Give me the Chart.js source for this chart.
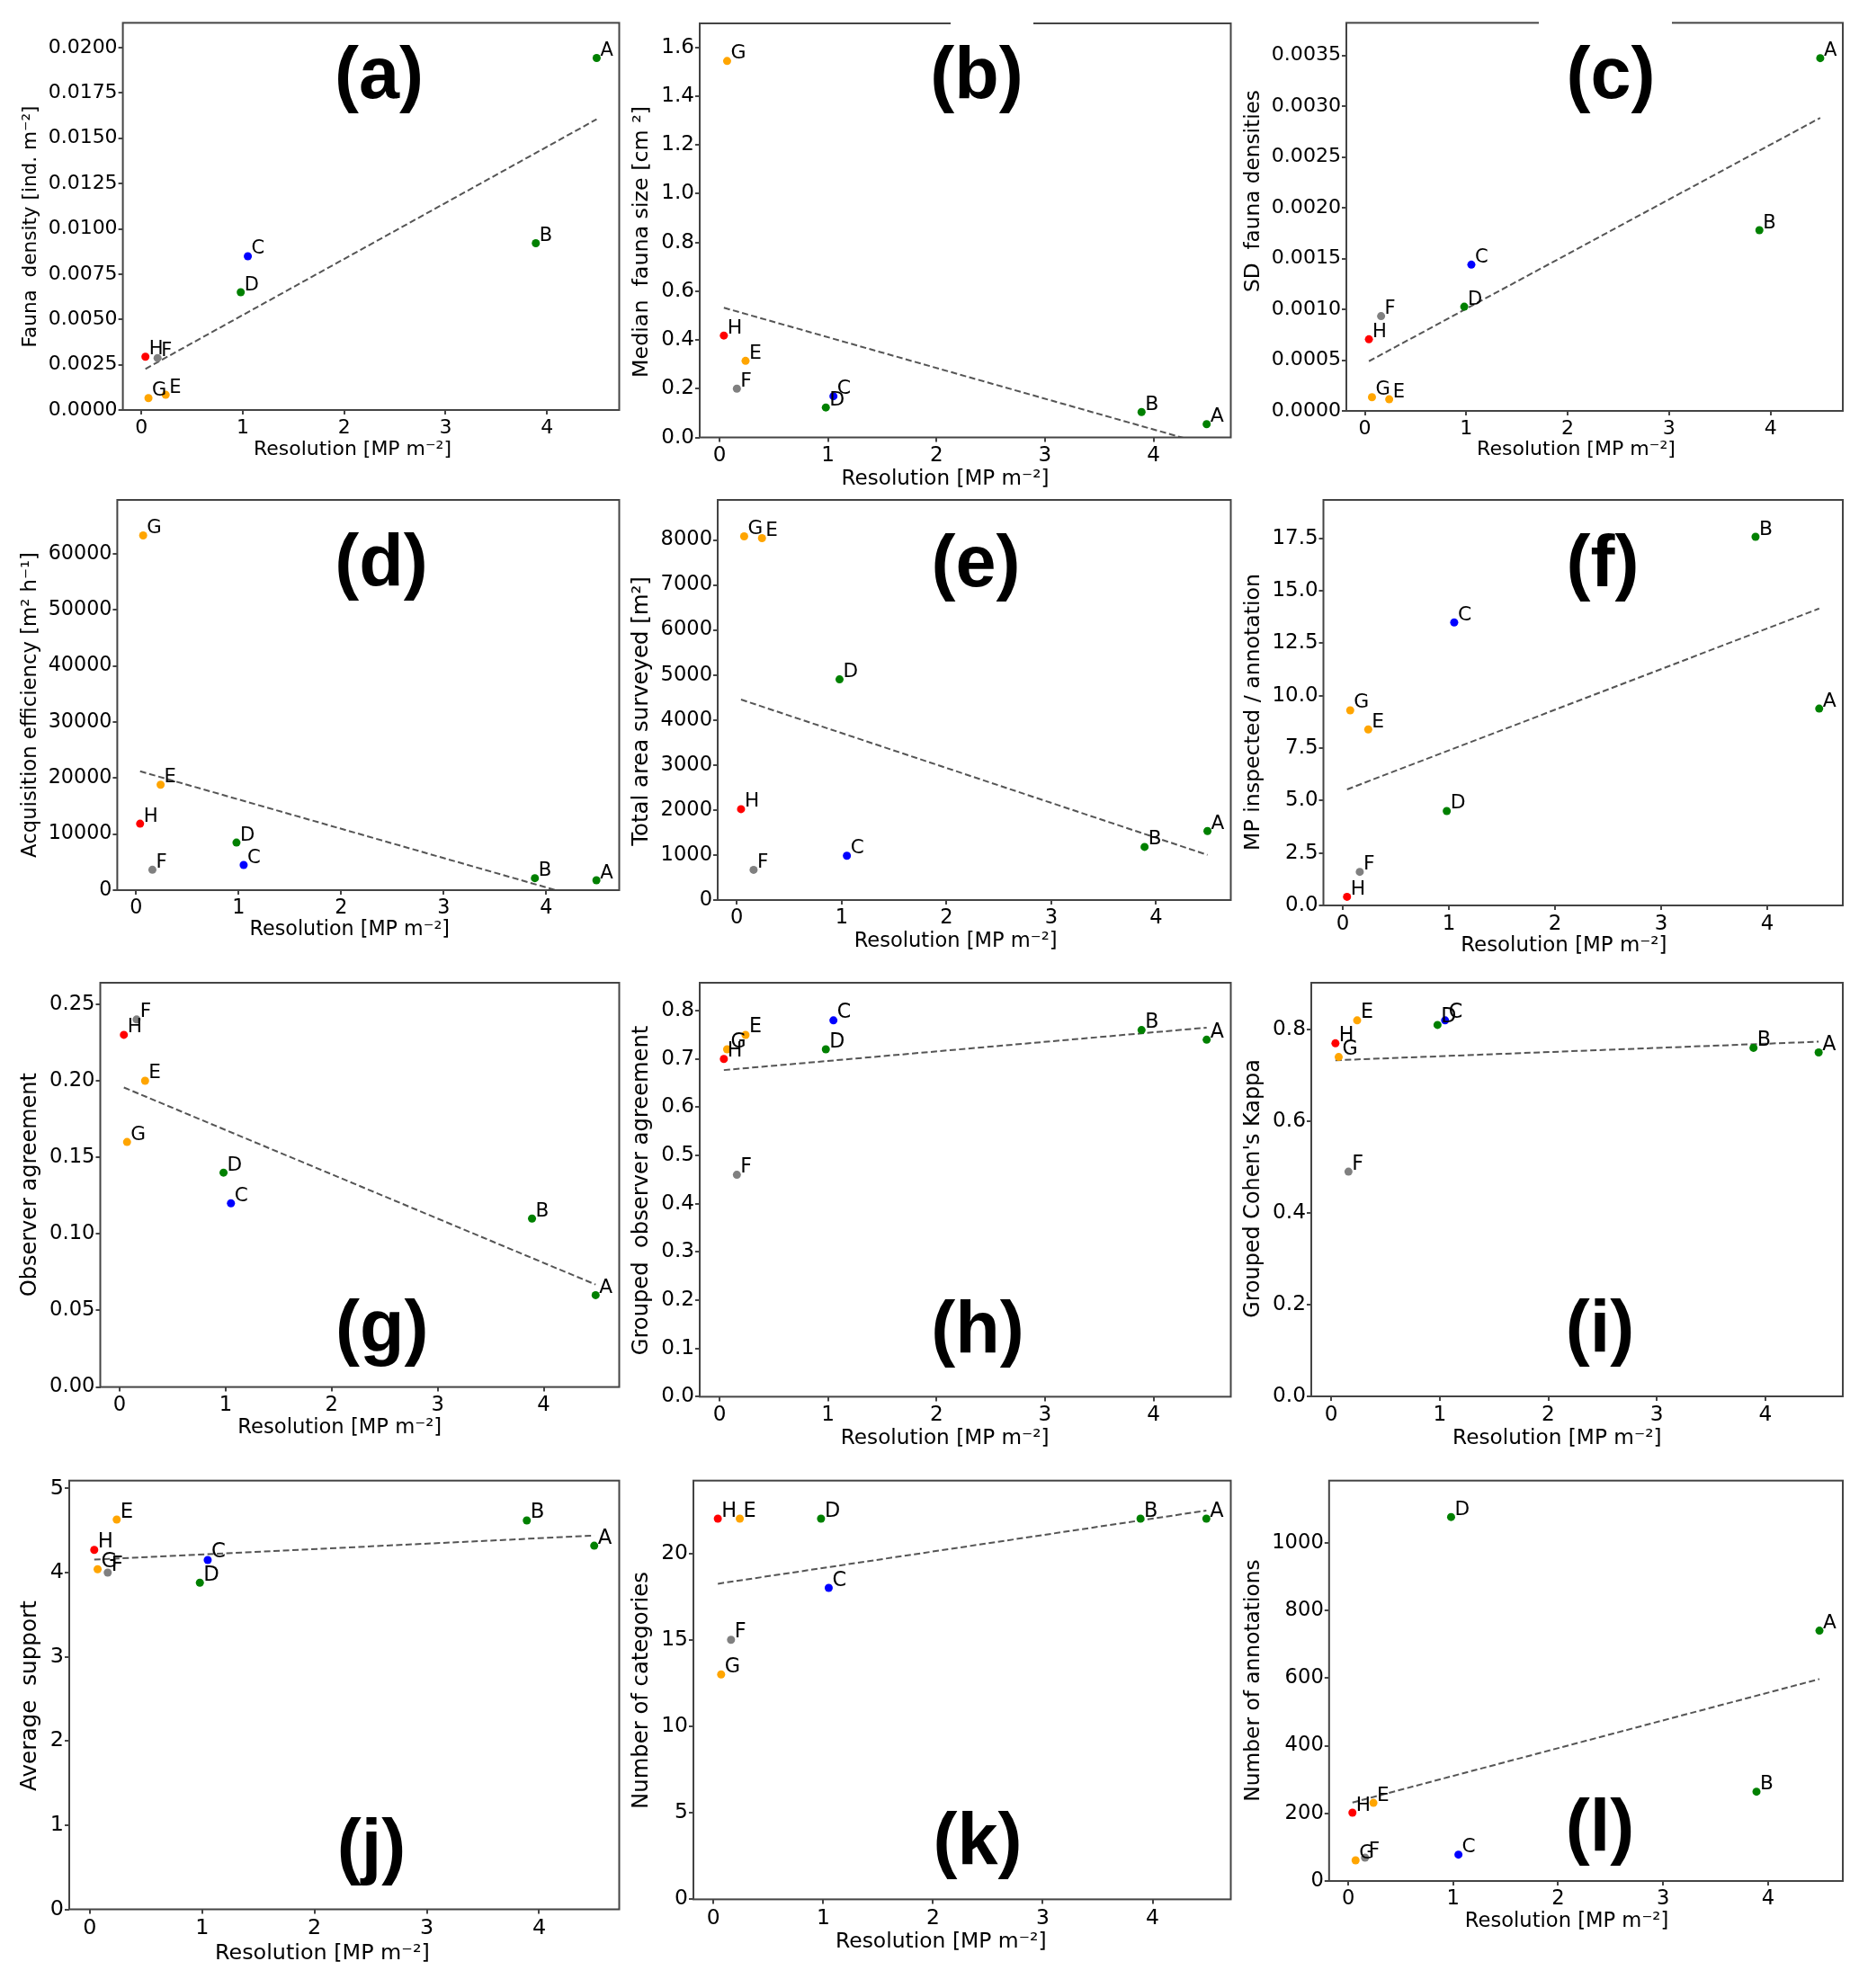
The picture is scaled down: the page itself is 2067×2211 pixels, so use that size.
<!DOCTYPE html>
<html><head><meta charset="utf-8">
<script src="https://cdn.jsdelivr.net/npm/chart.js@4/dist/chart.umd.min.js"></script>
<style>
html,body{margin:0;padding:0;background:#fff;}
#page{position:relative;width:2067px;height:2211px;overflow:hidden;background:#fff;}
#page canvas{position:absolute;}
</style></head><body><div id="page"></div>
<script>
// ---------------- data ----------------
const sites = ['A','B','C','D','E','F','G','H'];
const siteColors = ['green','green','blue','green','orange','gray','orange','red'];
const resolution = [4.49,3.89,1.05,0.98,0.24,0.16,0.07,0.04];
const xTickLabels = ['0','1','2','3','4'];
const xTitle = 'Resolution [MP m\u207B\u00B2]';

const faunaDensity = [0.01943,0.00921,0.00849,0.0065,0.00084,0.00287,0.00066,0.00294];
const medianFaunaSize = [0.0545,0.104,0.169,0.123,0.314,0.200,1.544,0.418];
const sdFaunaDensities = [0.003473,0.001779,0.00144,0.001026,0.000114,0.000933,0.000135,0.000705];
const acquisitionEfficiency = [1763,2137,4488,8495,18807,3633,63313,11861];
const totalAreaSurveyed = [1532,1180,983,4902,8041,671,8081,2020];
const mpPerAnnotation = [9.38,17.57,13.49,4.50,8.39,1.60,9.30,0.41];
const observerAgreement = [0.06,0.11,0.12,0.14,0.20,0.24,0.16,0.23];
const groupedObserverAgreement = [0.74,0.76,0.78,0.72,0.75,0.46,0.72,0.70];
const groupedKappa = [0.75,0.76,0.82,0.81,0.82,0.49,0.74,0.77];
const averageSupport = [4.32,4.62,4.15,3.88,4.63,4.00,4.04,4.27];
const numberOfCategories = [22,22,18,22,22,15,13,22];
const numberOfAnnotations = [740,264,78,1076,231,69,61,202];

// trend lines: x from / to, y from / to
const trendX = [0.04, 4.49];
const trendA = [0.00227, 0.01605];
const trendB = [0.532, -0.029];
const trendC = [0.000489, 0.002885];
const trendD = [21211, -2063];
const trendE = [4454, 1003];
const trendF = [5.53, 14.15];
const trendG = [0.1956, 0.0669];
const trendH = [0.677, 0.765];
const trendI = [0.733, 0.7735];
const trendJ = [4.154, 4.44];
const trendK = [18.24, 22.47];
const trendL = [232, 597];

// y tick labels
const ticksA = ['0.0000','0.0025','0.0050','0.0075','0.0100','0.0125','0.0150','0.0175','0.0200'];
const ticksB = ['0.0','0.2','0.4','0.6','0.8','1.0','1.2','1.4','1.6'];
const ticksC = ['0.0000','0.0005','0.0010','0.0015','0.0020','0.0025','0.0030','0.0035'];
const ticksD = ['0','10000','20000','30000','40000','50000','60000'];
const ticksE = ['0','1000','2000','3000','4000','5000','6000','7000','8000'];
const ticksF = ['0.0','2.5','5.0','7.5','10.0','12.5','15.0','17.5'];
const ticksG = ['0.00','0.05','0.10','0.15','0.20','0.25'];
const ticksH = ['0.0','0.1','0.2','0.3','0.4','0.5','0.6','0.7','0.8'];
const ticksI = ['0.0','0.2','0.4','0.6','0.8'];
const ticksJ = ['0','1','2','3','4','5'];
const ticksK = ['0','5','10','15','20'];
const ticksL = ['0','200','400','600','800','1000'];

// ---------------- layout ----------------
const FRAME = '#444';
const FONT = '"DejaVu Sans"';
Chart.defaults.font.family = '"DejaVu Sans", sans-serif';
Chart.defaults.color = '#000';

// box = plot area [left, top, right, bottom]; ytc = y-title centre; yl = y-title length;
// xt = [x-title centre x, centre y, width]; lab = panel letter centre/baseline
const panels = [
  {tag:'(a)', v:faunaDensity, tr:trendA, tk:ticksA, yt:'Fauna  density [ind. m\u207B\u00B2]', col:0, box:[136.6,25.4,688.5,456], ytc:252, yl:269, xt:[392,500,220], lab:[421.5,109]},
  {tag:'(b)', v:medianFaunaSize, tr:trendB, tk:ticksB, yt:'Median  fauna size [cm \u00B2]', col:680, box:[778,26,1368.5,486.5], ytc:269, yl:302, xt:[1051,533,231], lab:[1086,109.4], gap:[1057,1149]},
  {tag:'(c)', v:sdFaunaDensities, tr:trendC, tk:ticksC, yt:'SD  fauna densities', col:1360, box:[1497,25.4,2049,457], ytc:212.5, yl:225, xt:[1752.5,500,221], lab:[1791,109], gap:[1711,1859]},
  {tag:'(d)', v:acquisitionEfficiency, tr:trendD, tk:ticksD, yt:'Acquisition efficiency [m\u00B2 h\u207B\u00B9]', col:0, box:[130.4,556,688.5,990], ytc:784, yl:340, xt:[388.8,1034,222.5], lab:[424,651]},
  {tag:'(e)', v:totalAreaSurveyed, tr:trendE, tk:ticksE, yt:'Total area surveyed [m\u00B2]', col:680, box:[798,556,1368.5,1001], ytc:791, yl:299.5, xt:[1062.6,1046.8,226], lab:[1085,651.6]},
  {tag:'(f)', v:mpPerAnnotation, tr:trendF, tk:ticksF, yt:'MP inspected / annotation', col:1360, box:[1471.5,556,2049,1007], ytc:792, yl:308, xt:[1738.8,1051.8,229.5], lab:[1782,651.6]},
  {tag:'(g)', v:observerAgreement, tr:trendG, tk:ticksG, yt:'Observer agreement', col:0, box:[111.5,1093,688.5,1542.6], ytc:1317.6, yl:249, xt:[377.7,1588.5,227], lab:[424.7,1503]},
  {tag:'(h)', v:groupedObserverAgreement, tr:trendH, tk:ticksH, yt:'Grouped  observer agreement', col:680, box:[778,1093,1368.5,1553.4], ytc:1324, yl:367, xt:[1050.7,1599.6,232], lab:[1087,1503.7]},
  {tag:'(i)', v:groupedKappa, tr:trendI, tk:ticksI, yt:"Grouped Cohen's Kappa", col:1360, box:[1458,1093,2049,1553], ytc:1322, yl:288, xt:[1731.3,1599.6,232.6], lab:[1779,1503]},
  {tag:'(j)', v:averageSupport, tr:trendJ, tk:ticksJ, yt:'Average  support', col:0, box:[77,1646.7,688.5,2123.5], ytc:1886, yl:212, xt:[358.4,2172.7,239], lab:[413,2079.8]},
  {tag:'(k)', v:numberOfCategories, tr:trendK, tk:ticksK, yt:'Number of categories', col:680, box:[771,1646.7,1368.5,2112.4], ytc:1880, yl:264, xt:[1046.3,2159.7,234.7], lab:[1087,2073]},
  {tag:'(l)', v:numberOfAnnotations, tr:trendL, tk:ticksL, yt:'Number of annotations', col:1360, box:[1477.8,1646.7,2049,2092], ytc:1869, yl:269.4, xt:[1742,2137.4,226.7], lab:[1779,2058]}
];

const page = document.getElementById('page');
const mctx = document.createElement('canvas').getContext('2d');
function fitSize(text, target, base){
  mctx.font = base + 'px ' + FONT;
  return base * target / mctx.measureText(text).width;
}

function makeChart(p){
  const [L,T,R,B] = p.box;
  const left = p.col;
  const top = Math.floor(T - 20);
  const W = Math.ceil(R) + 8 - left;
  const H = Math.round(Math.max(B + 62, p.xt[1] + 18) - top);
  const cv = document.createElement('canvas');
  cv.width = W; cv.height = H;
  cv.style.left = left + 'px'; cv.style.top = top + 'px';
  cv.style.width = W + 'px'; cv.style.height = H + 'px';
  page.appendChild(cv);

  const xFont = fitSize(xTitle, p.xt[2], 22);
  const s = xFont / 22;
  const yFont = fitSize(p.yt, p.yl, 22);
  const tickFont = 22 * s;
  const labFont = 21 * s;

  const ymax = Math.max(...p.v) * 1.1;
  const xmin = Math.min(...resolution), xmax = Math.max(...resolution);
  const xm = (xmax - xmin) * 0.05;

  const deco = {
    id:'deco',
    afterDraw(chart){
      const ctx = chart.ctx, a = chart.chartArea;
      ctx.save();
      ctx.strokeStyle = FRAME; ctx.lineWidth = 2;
      ctx.strokeRect(a.left, a.top, a.right - a.left, a.bottom - a.top);
      if (p.gap){
        ctx.fillStyle = '#fff';
        ctx.fillRect(p.gap[0] - left, a.top - 3, p.gap[1] - p.gap[0], 6);
      }
      ctx.fillStyle = '#000';
      ctx.font = labFont + 'px ' + FONT;
      ctx.textAlign = 'left'; ctx.textBaseline = 'alphabetic';
      const meta = chart.getDatasetMeta(0);
      meta.data.forEach((el, i) => { ctx.fillText(sites[i], el.x + 4, el.y - 2.5); });
      ctx.font = 'bold 81px "Liberation Sans"';
      ctx.textAlign = 'center';
      ctx.fillText(p.tag, p.lab[0] - left, p.lab[1] - top);
      ctx.textBaseline = 'middle';
      ctx.font = xFont + 'px ' + FONT;
      ctx.fillText(xTitle, p.xt[0] - left, p.xt[1] - top);
      ctx.font = yFont + 'px ' + FONT;
      ctx.translate(34, p.ytc - top);
      ctx.rotate(-Math.PI / 2);
      ctx.fillText(p.yt, 0, 0);
      ctx.restore();
    }
  };

  new Chart(cv, {
    type:'scatter',
    data:{datasets:[
      {type:'scatter', data: resolution.map((x,i)=>({x:x, y:p.v[i]})),
       pointBackgroundColor: siteColors, pointBorderColor: siteColors, pointBorderWidth:0,
       pointRadius:4.5, order:0},
      {type:'line', data:[{x:trendX[0], y:p.tr[0]},{x:trendX[1], y:p.tr[1]}],
       borderColor:'#555', borderWidth:2, borderDash:[7,3.5], pointRadius:0, fill:false, order:1}
    ]},
    options:{
      responsive:false, animation:false, devicePixelRatio:1, events:[],
      layout:{padding:{top: T - top, right: W - (R - left), left:0, bottom:0}},
      plugins:{legend:{display:false}, tooltip:{enabled:false}},
      scales:{
        x:{type:'linear', min:xmin - xm, max:xmax + xm,
           afterBuildTicks:sc=>{ sc.ticks = xTickLabels.map(t=>({value:+t})); },
           afterFit:sc=>{ sc.height = H - (B - top); },
           ticks:{callback:(v,i)=>xTickLabels[i], font:{size:tickFont}, color:'#000', padding:2, maxRotation:0, autoSkip:false},
           grid:{drawOnChartArea:false, drawTicks:true, tickLength:5, color:FRAME, lineWidth:2},
           border:{display:false}},
        y:{type:'linear', min:0, max:ymax,
           afterBuildTicks:sc=>{ sc.ticks = p.tk.map(t=>({value:+t})); },
           afterFit:sc=>{ sc.width = L - left; },
           ticks:{callback:(v,i)=>p.tk[i], font:{size:tickFont}, color:'#000', padding:1, autoSkip:false},
           grid:{drawOnChartArea:false, drawTicks:true, tickLength:5, color:FRAME, lineWidth:2},
           border:{display:false}}
      }
    },
    plugins:[deco]
  });
}

panels.forEach(makeChart);
</script>
</body></html>
